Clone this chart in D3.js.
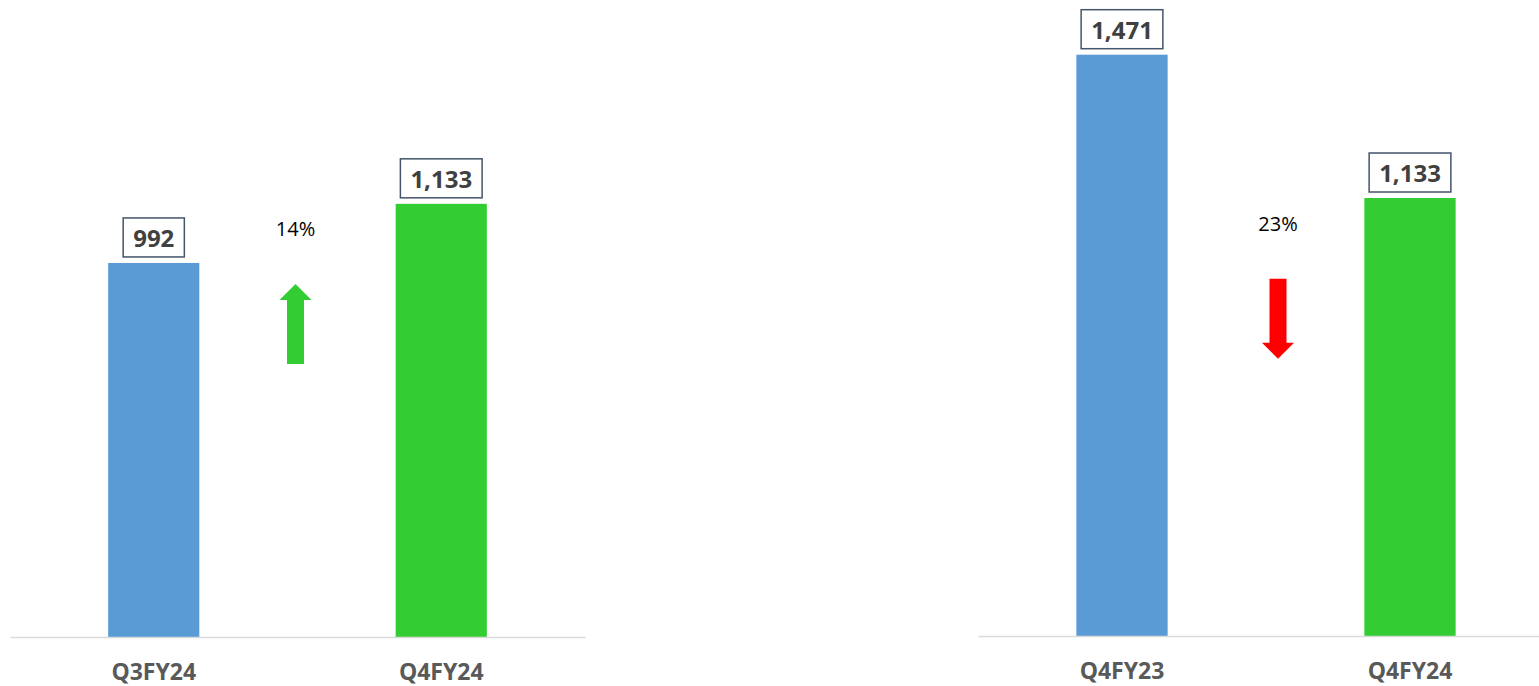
<!DOCTYPE html>
<html>
<head>
<meta charset="utf-8">
<script src="https://cdn.jsdelivr.net/npm/d3@7"></script>
<style>
  body { margin: 0; background: #fff; }
  svg { display: block; font-family: "Open Sans", sans-serif; }
</style>
</head>
<body>
<svg></svg>
<script>
const width = 1539;
const height = 686;

// data
const leftCategories = ["Q3FY24", "Q4FY24"];
const leftValues = [992, 1133];
const leftChange = "14%";
const leftDirection = "up";

const rightCategories = ["Q4FY23", "Q4FY24"];
const rightValues = [1471, 1133];
const rightChange = "23%";
const rightDirection = "down";

const barColors = ["#5B9BD5", "#33CC33"];
const yDomain = [100, 1600];
const changeLabelLevel = 1056;

const panels = [
    { cats: leftCategories, vals: leftValues, change: leftChange, dir: leftDirection,
      xRange: [10, 585], yRange: [637, 8], dx: -2 },
    { cats: rightCategories, vals: rightValues, change: rightChange, dir: rightDirection,
      xRange: [978, 1554], yRange: [636, 0], dx: 12 },
];

const fmt = d3.format(",");
const arrowLen = 80, shaftW = 17, headW = 32, headLen = 16;

const svg = d3.select("svg")
    .attr("width", width)
    .attr("height", height);

panels.forEach(p => {
    const x = d3.scaleBand()
        .domain(p.cats)
        .range(p.xRange)
        .paddingInner(0.683)
        .paddingOuter(0.3415);

    const y = d3.scaleLinear()
        .domain(yDomain)
        .range(p.yRange);

    const g = svg.append("g");
    const base = y(yDomain[0]);

    // bars
    g.selectAll("rect.bar")
        .data(p.vals)
        .enter()
        .append("rect")
        .attr("class", "bar")
        .attr("x", (d, i) => x(p.cats[i]))
        .attr("y", d => y(d))
        .attr("width", x.bandwidth())
        .attr("height", d => base - y(d))
        .attr("fill", (d, i) => barColors[i]);

    // axis
    const axis = g.append("g")
        .attr("transform", `translate(0,${base})`)
        .call(d3.axisBottom(x).tickSize(0).tickSizeOuter(0));
    axis.select(".domain")
        .attr("stroke", "#D9D9D9")
        .attr("stroke-width", 1.5);
    axis.selectAll(".tick text")
        .attr("y", 43)
        .attr("dy", 0)
        .attr("fill", "#595959")
        .style("font-size", "23px")
        .style("font-weight", "bold")
        .style("font-family", "'Open Sans', sans-serif");

    // value labels in boxes
    const labels = g.selectAll("g.vlabel")
        .data(p.vals)
        .enter()
        .append("g")
        .attr("class", "vlabel")
        .attr("transform", (d, i) => `translate(${x(p.cats[i]) + x.bandwidth() / 2},${y(d)})`);

    const texts = labels.append("text")
        .attr("text-anchor", "middle")
        .attr("y", -16)
        .attr("fill", "#404040")
        .style("font-size", "24px")
        .style("font-weight", "bold")
        .text(d => fmt(d));

    texts.each(function() {
        const w = this.getBBox().width + 20;
        d3.select(this.parentNode).insert("rect", "text")
            .attr("x", -w / 2)
            .attr("y", -45)
            .attr("width", w)
            .attr("height", 39)
            .attr("fill", "#fff")
            .attr("stroke", "#44546A")
            .attr("stroke-width", 1.5);
    });

    // change annotation
    const cx = (x(p.cats[0]) + x(p.cats[1]) + x.bandwidth()) / 2 + p.dx;
    const ly = y(changeLabelLevel);
    g.append("text")
        .attr("x", cx)
        .attr("y", ly)
        .attr("text-anchor", "middle")
        .attr("fill", "#000")
        .style("font-size", "20px")
        .text(p.change);

    const top = ly + 48, bottom = top + arrowLen;
    let pts;
    if (p.dir === "up") {
        pts = [[cx, top], [cx + headW / 2, top + headLen], [cx + shaftW / 2, top + headLen],
               [cx + shaftW / 2, bottom], [cx - shaftW / 2, bottom], [cx - shaftW / 2, top + headLen],
               [cx - headW / 2, top + headLen]];
    } else {
        pts = [[cx, bottom], [cx + headW / 2, bottom - headLen], [cx + shaftW / 2, bottom - headLen],
               [cx + shaftW / 2, top], [cx - shaftW / 2, top], [cx - shaftW / 2, bottom - headLen],
               [cx - headW / 2, bottom - headLen]];
    }
    g.append("path")
        .attr("d", d3.line()(pts) + "Z")
        .attr("fill", p.dir === "up" ? "#33CC33" : "#FF0000");
});
</script>
</body>
</html>
